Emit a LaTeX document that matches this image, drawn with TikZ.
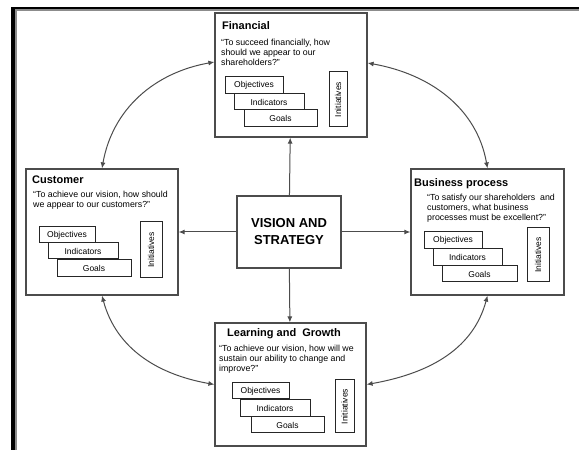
\documentclass[tikz,border=0pt]{standalone}
\usepackage{fontspec}
\setmainfont{Liberation Sans}
\usetikzlibrary{arrows.meta}
\begin{document}
\begin{tikzpicture}[x=1pt,y=1pt,>={Latex[length=6pt,width=5pt]},
    persp/.style={draw=black!70,line width=1.2pt,fill=white,inner sep=0pt},
    item/.style={draw=black!85,line width=1pt,fill=white,inner sep=0pt,minimum height=17pt,font=\fontsize{8.5}{10}\selectfont},
    title/.style={anchor=base west,inner sep=0pt,font=\fontsize{11}{13}\selectfont\bfseries},
    quote/.style={anchor=north west,inner sep=0pt,align=left,font=\fontsize{8.8}{10}\selectfont},
    link/.style={draw=black!70,line width=1pt}]
          \useasboundingbox (0,0) rectangle (579,450);
          \draw[black!45,line width=1.5pt] (15.8,0) -- (15.8,440.2) -- (579,440.2);
          \draw[line width=4pt] (13,0) -- (13,443);
          \draw[line width=2.5pt] (11,442) -- (579,442);

          \node[persp,minimum width=152,minimum height=124] (fin) at (291,375) {};
          \node[persp,minimum width=152,minimum height=126] (cus) at (102,218) {};
          \node[persp,minimum width=153,minimum height=126] (bus) at (487.5,218) {};
          \node[persp,minimum width=151,minimum height=123] (lrn) at (290.5,65.5) {};
          \node[persp,minimum width=104,minimum height=72,align=center,
                font=\fontsize{13}{17}\selectfont\bfseries] (vis) at (289,218) {VISION AND\\STRATEGY};

          \node[title] (fintitle) at (222,420) {Financial};
          \node[quote] (finquote) at (221,411.5) {“To succeed financially, how\\should we appear to our\\shareholders?”};
          \node[item,minimum width=58] (finobj) at (254,364.5) {Objectives};
          \node[item,minimum width=70,minimum height=16] (finind) at (269,348) {Indicators};
          \node[item,minimum width=73] (fingoal) at (280.5,331.5) {Goals};
          \node[item,minimum width=55,minimum height=18,rotate=90] (fininit) at (338,350.5) {Initiatives};

          \node[title] (custitle) at (32,266) {Customer};
          \node[quote] (cusquote) at (33,259.5) {“To achieve our vision, how should\\we appear to our customers?”};
          \node[item,minimum width=56,minimum height=16] (cusobj) at (67,215) {Objectives};
          \node[item,minimum width=70,minimum height=16] (cusind) at (83,199) {Indicators};
          \node[item,minimum width=74] (cusgoal) at (94,182) {Goals};
          \node[item,minimum width=56,minimum height=22,rotate=90] (cusinit) at (151,200) {Initiatives};

          \node[title] (bustitle) at (414,263) {Business process};
          \node[quote] (busquote) at (427,256.5) {“To satisfy our shareholders\ \ and\\customers, what business\\processes must be excellent?”};
          \node[item,minimum width=58] (busobj) at (453,209.5) {Objectives};
          \node[item,minimum width=69] (busind) at (467.5,192.5) {Indicators};
          \node[item,minimum width=75,minimum height=16] (busgoal) at (479.5,176) {Goals};
          \node[item,minimum width=54,minimum height=22,rotate=90] (businit) at (538,195) {Initiatives};

          \node[title] (lrntitle) at (227,113) {Learning and\ \ Growth};
          \node[quote] (lrnquote) at (219,105.5) {“To achieve our vision, how will we\\sustain our ability to change and\\improve?”};
          \node[item,minimum width=57,minimum height=16] (lrnobj) at (260.5,59) {Objectives};
          \node[item,minimum width=70] (lrnind) at (275,42) {Indicators};
          \node[item,minimum width=73,minimum height=16] (lrngoal) at (287.5,25) {Goals};
          \node[item,minimum width=53,minimum height=19,rotate=90] (lrninit) at (344.5,43.5) {Initiatives};

          \draw[link,->] (vis) -- (fin);
          \draw[link,->] (vis) -- (cus);
          \draw[link,->] (vis) -- (bus);
          \draw[link,->] (vis) -- (lrn);

          \draw[link,<->] ([yshift=13pt]fin.west) to [out=190, in=80] (cus.north);
          \draw[link,<->] ([yshift=12pt]fin.east) to [out=-10, in=100] (bus.north);
          \draw[link,<->] (cus.south) to [out=-75, in=170] (lrn.west);
          \draw[link,<->] (bus.south) to [out=-105, in=10] (lrn.east);
    \end{tikzpicture}
\end{document}
